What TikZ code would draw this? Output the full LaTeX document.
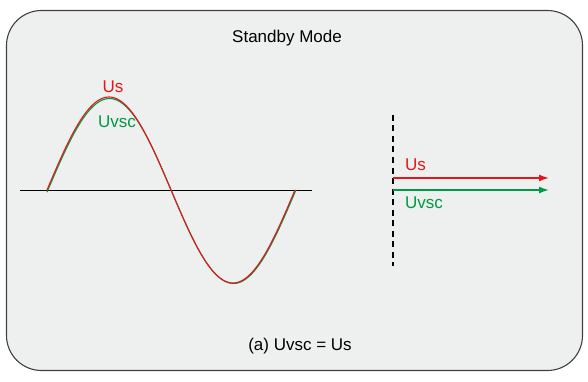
\documentclass[tikz,border=0pt]{standalone}
\usepackage{fontspec}
\setmainfont{Liberation Sans}
\usetikzlibrary{arrows.meta}
\usetikzlibrary{calc}

\definecolor{usred}{RGB}{232,20,22}
\definecolor{vscgreen}{RGB}{0,153,68}
\definecolor{panelgray}{RGB}{238,239,239}

\tikzset{
    lbl/.style = {font=\fontsize{17}{19}\selectfont, inner sep=0pt},
    wave/.style = {line width=1.1pt, smooth},
    phasor/.style = {line width=1.4pt, -{Latex[length=10pt,width=7pt]}}
}

\begin{document}
\begin{tikzpicture}[x=1pt,y=-1pt]
\useasboundingbox (0,0) rectangle (588,382);
    % Panel
\draw[fill=panelgray, draw=black!75, line width=1.1pt, rounded corners=35pt] (6.5,10.5) rectangle (582.5,370.5);

\node[lbl] (title) at (287,38) {Standby Mode};
\node[lbl] (caption) at (300,346) {(a) Uvsc = Us};

    % Time domain
\coordinate (ax0) at (20,190);
\coordinate (ax1) at (312,190);
\draw[line width=0.9pt] (ax0) -- (ax1);

\draw[wave, vscgreen] plot[domain=47:296, samples=120] (\x,{191-92.5*sin(1.4516*(\x-47.5))});
\draw[wave, usred] plot[domain=47:295, samples=120] (\x,{190-93*sin(1.4516*(\x-47))});

\node[lbl, usred] (us1) at (113,87) {Us};
\node[lbl, vscgreen] (uvsc1) at (117,122) {Uvsc};

    % Phasors
\coordinate (d0) at (393,115);
\coordinate (d1) at (393,266);
\draw[line width=1.1pt, dash pattern=on 6pt off 4.5pt] (d0) -- (d1);

\coordinate (o1) at (393,178);
\coordinate (e1) at (549,178);
\coordinate (o2) at (393,190);
\coordinate (e2) at (549,190);
\draw[phasor, usred] (o1) -- (e1);
\draw[phasor, vscgreen] (o2) -- (e2);

\node[lbl, usred, anchor=west] (us2) at (405,165) {Us};
\node[lbl, vscgreen, anchor=west] (uvsc2) at (405,203) {Uvsc};

\end{tikzpicture}
\end{document}
